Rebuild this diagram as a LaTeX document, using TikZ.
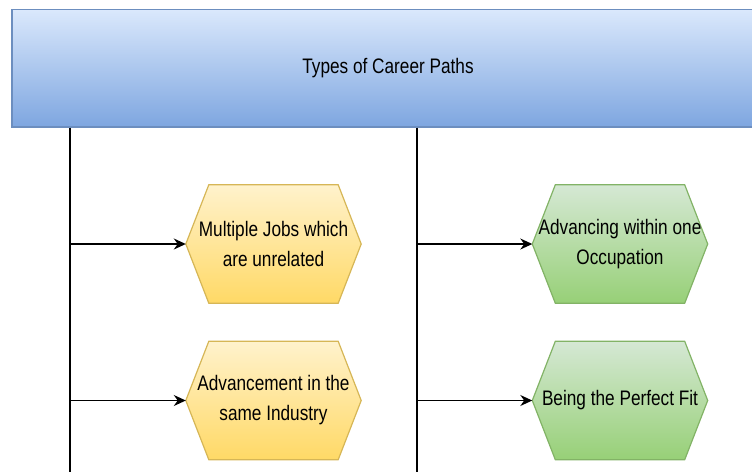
\documentclass[tikz,border=0pt]{standalone}
\usepackage{fontspec}
\setmainfont{Liberation Sans}[FakeStretch=0.82]
\usetikzlibrary{arrows.meta,backgrounds}

\definecolor{bluetop}{HTML}{DAE8FC}
\definecolor{bluebot}{HTML}{7EA6E0}
\definecolor{blueline}{HTML}{6C8EBF}
\definecolor{yellowtop}{HTML}{FFF2CC}
\definecolor{yellowbot}{HTML}{FFD966}
\definecolor{yellowline}{HTML}{D6B656}
\definecolor{greentop}{HTML}{D5E8D4}
\definecolor{greenbot}{HTML}{97D077}
\definecolor{greenline}{HTML}{82B366}

\begin{document}
\begin{tikzpicture}[x=1pt,y=-1pt,
  header/.style={draw=blueline,line width=1.2pt,top color=bluetop,bottom color=bluebot,
    minimum width=752pt,minimum height=117.5pt,inner sep=0pt,
    font=\fontsize{21}{30}\selectfont},
  pathbox/.style={minimum width=175pt,minimum height=118pt,inner sep=0pt,
    align=center,font=\fontsize{21}{30}\selectfont},
  yellowhex/.style={draw=yellowline,line width=1.2pt,top color=yellowtop,bottom color=yellowbot},
  greenhex/.style={draw=greenline,line width=1.2pt,top color=greentop,bottom color=greenbot},
  trunk/.style={line width=1.5pt},
  link/.style={line width=1.5pt,-{Stealth[length=12pt,width=11pt]}}]
  \useasboundingbox (0,0) rectangle (752,472);
  \node[header] (hdr) at (388,68.25) {Types of Career Paths};
  \coordinate (leftend) at (70,472);
  \coordinate (midend) at (417,472);
  \draw[trunk] (hdr.south -| leftend) -- (leftend);
  \draw[trunk] (hdr.south -| midend) -- (midend);
  \node[pathbox] (jobs) at (273.5,244) {Multiple Jobs which\\are unrelated};
  \node[pathbox] (industry) at (273.5,400.5) {Advancement in the\\same Industry};
  \node[pathbox] (occupation) at (620,244) {Advancing within one\\Occupation};
  \node[pathbox] (fit) at (620,400.5) {Being the Perfect Fit};
  % hexagon outlines behind the texts
  \begin{scope}[on background layer]
    \foreach \n/\c in {jobs/yellow,industry/yellow,occupation/green,fit/green}
      \draw[\c hex] (\n.west) -- ([xshift=23pt]\n.north west)
        -- ([xshift=-23pt]\n.north east) -- (\n.east)
        -- ([xshift=-23pt]\n.south east) -- ([xshift=23pt]\n.south west) -- cycle;
  \end{scope}
  \draw[link] (jobs.west -| leftend) -- (jobs.west);
  \draw[link] (industry.west -| leftend) -- (industry.west);
  \draw[link] (occupation.west -| midend) -- (occupation.west);
  \draw[link] (fit.west -| midend) -- (fit.west);
\end{tikzpicture}
\end{document}
